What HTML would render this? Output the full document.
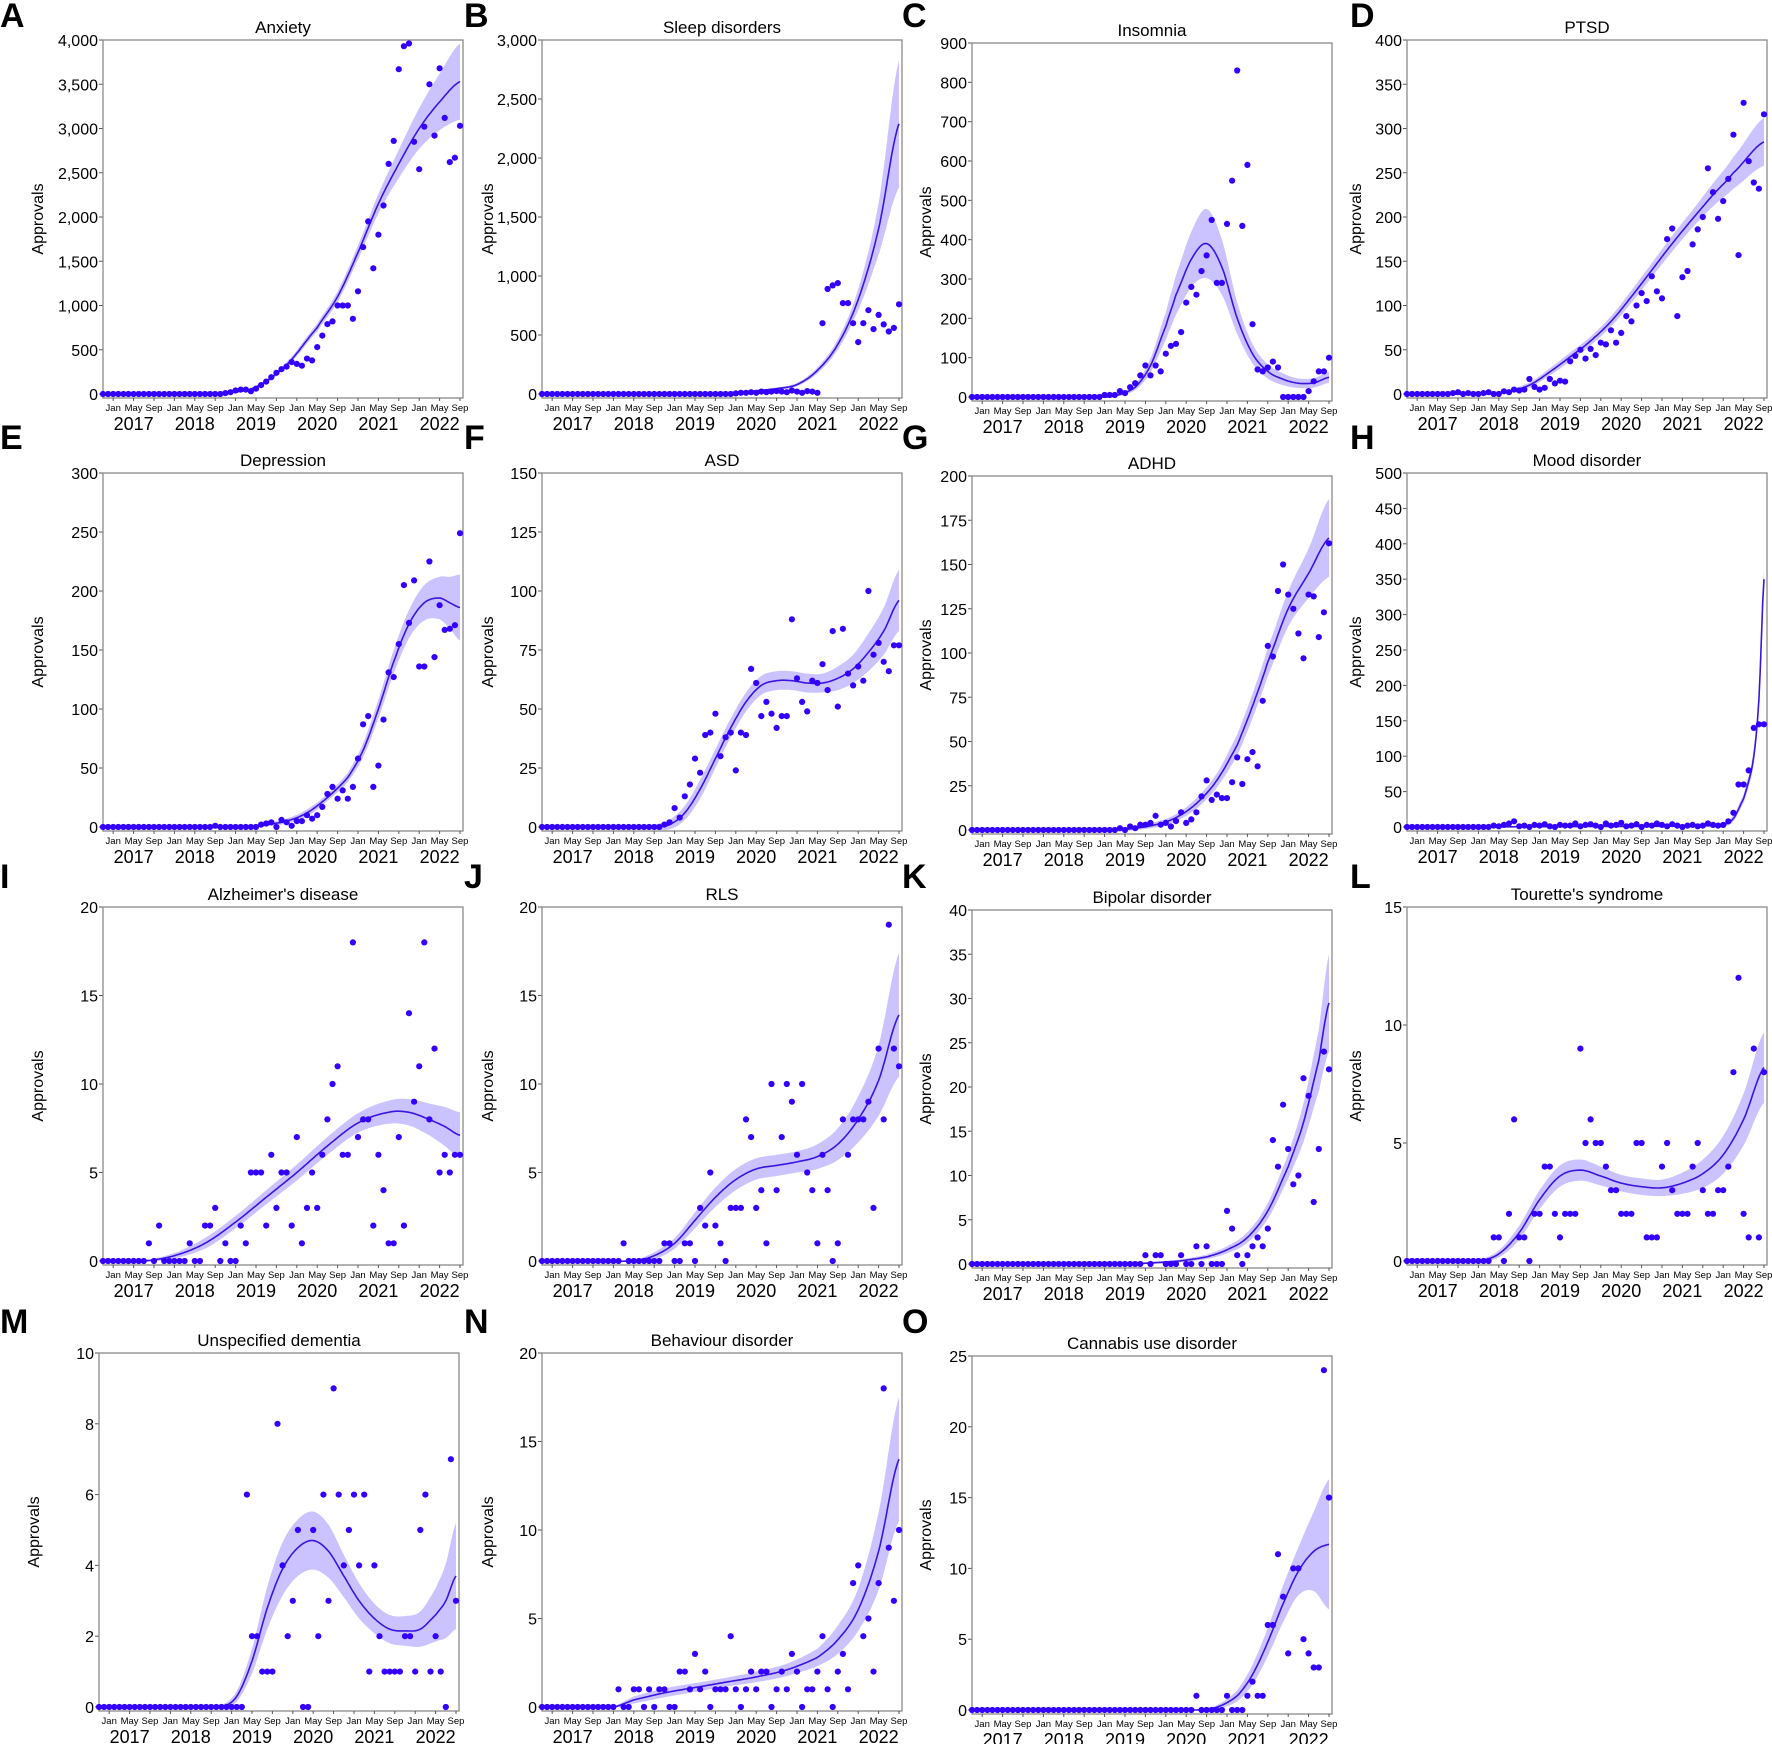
<!DOCTYPE html>
<html><head><meta charset="utf-8"><style>
html,body{margin:0;padding:0;background:#fff;}
svg{display:block;font-family:"Liberation Sans",Arial,sans-serif;}
</style></head><body>
<svg id="s" width="1772" height="1744" viewBox="0 0 1772 1744" xmlns="http://www.w3.org/2000/svg"></svg>
<script>
function P(s,arr){var o={};arr.forEach(function(v,i){o[s+i]=v;});return o;}
function R(s,e,arr){var o={};var n=arr.length;for(var m=s;m<=e;m++){o[m]=arr[Math.round((m-s)*(n-1)/(e-s))];}return o;}
var panels=[
{L:'A',t:'Anxiety',c:0,r:0,ymax:4000,st:500,cm:true,
 p:R(24,70,[10,20,40,50,50,30,60,100,140,190,240,280,310,360,340,320,400,380,530,660,790,820,1000,1000,1000,850,1160,1660,1950,1420,1800,2130,2600,2860,3670,3930,3960,2850,2540,3020,3500,2920,3680,3120,2620,2670,3030]),
 cv:[[0,0,0],[20,0,2],[24,10,5],[30,80,15],[36,330,30],[42,750,45],[46,1100,60],[50,1600,80],[54,2150,110],[58,2600,160],[62,3000,230],[66,3300,320],[70,3530,430]]},
{L:'B',t:'Sleep disorders',c:1,r:0,ymax:3000,st:500,cm:true,
 p:R(38,70,[5,10,10,15,10,20,15,20,25,20,15,30,20,10,25,20,10,600,890,920,940,770,770,600,440,600,710,550,670,590,530,560,760]),
 cv:[[0,0,0],[30,2,2],[40,20,5],[46,45,10],[50,80,15],[54,200,25],[58,420,45],[62,800,90],[66,1400,220],[70,2290,540]]},
{L:'C',t:'Insomnia',c:2,r:0,ymax:900,st:100,
 p:R(26,70,[5,5,5,15,10,25,35,55,80,55,80,65,110,130,135,165,240,280,260,320,360,450,290,440,550,830,435,590,185,70,65,75,90,75,0,0,0,0,0,15,40,65,65,100]),
 cv:[[0,0,0],[24,0,1],[28,3,3],[32,25,8],[35,80,18],[38,180,35],[40,260,50],[43,350,70],[46,390,88],[49,330,70],[52,200,40],[55,110,25],[58,65,18],[61,45,15],[64,35,12],[67,36,12],[70,50,14]]},
{L:'D',t:'PTSD',c:3,r:0,ymax:400,st:50,
 p:Object.assign(P(0,[0,0,0,0,0,0,0,0,0,1,2,0,1,0,0,1,2,0]),R(18,70,[0,3,2,5,4,5,17,8,5,7,17,12,15,14,37,43,50,40,51,44,58,56,72,58,69,88,82,100,114,105,133,116,108,175,187,88,132,139,169,186,200,255,228,198,218,243,293,157,329,263,239,232,316])),
 cv:[[0,0,0],[16,0,1],[20,3,2],[24,10,3],[28,25,4],[32,42,5],[36,60,5],[40,82,6],[44,110,7],[48,140,8],[52,170,9],[56,198,10],[60,225,13],[64,250,18],[70,285,27]]},
{L:'E',t:'Depression',c:0,r:1,ymax:300,st:50,
 p:Object.assign(P(22,[1]),R(30,70,[0,2,3,4,0,6,4,1,5,5,10,7,10,17,28,34,24,31,24,34,58,87,94,34,52,91,131,127,155,205,173,209,136,136,225,144,188,167,168,171,249])),
 cv:[[0,0,0],[28,0,1],[32,2,1.5],[36,5,2],[40,12,3],[44,25,3],[48,42,4],[51,65,6],[54,100,8],[57,140,10],[60,172,12],[63,190,15],[66,194,18],[68,190,22],[70,186,28]]},
{L:'F',t:'ASD',c:1,r:1,ymax:150,st:25,
 p:R(24,70,[1,2,8,4,13,18,29,23,39,40,48,30,38,40,24,40,39,67,61,47,53,48,42,47,88,63,53,49,62,61,69,58,83,51,84,65,60,68,62,100,73,78,70,66,77,77]),
 cv:[[0,0,0],[22,0,1],[25,1,2],[28,6,3],[31,16,4],[34,29,4],[37,42,4],[40,53,4],[43,60,4],[46,62,4],[49,62,4],[52,61,4],[55,61,4],[58,63,5],[61,67,6],[64,74,8],[67,83,10],[70,96,13]]},
{L:'G',t:'ADHD',c:2,r:1,ymax:200,st:25,
 p:R(29,70,[1,0,2,1,3,3,4,8,3,4,2,5,10,4,6,10,19,28,17,20,18,27,41,26,40,44,36,73,104,98,135,150,133,125,111,97,133,132,109,123,162]),
 cv:[[0,0,0],[28,0,1],[32,1,1],[36,3,1.5],[40,7,2],[44,15,3],[48,28,4],[52,48,6],[55,70,7],[58,95,8],[62,125,10],[66,145,14],[70,165,22]]},
{L:'H',t:'Mood disorder',c:3,r:1,ymax:500,st:50,
 p:Object.assign(P(16,[0,2,1,3,5,8,1,2,0,3,2,4,1,0,3,2,2,5,1,3,4,2,0,5,2,3,6,1,2,4,0,3,2,5,3,1,4,2,0,2,3,1,2,5,3,2]),P(62,[3,8,20,60,60,80,140,145,145])),
 cv:[[0,0,0],[50,1,1],[58,2,2],[62,3,3],[64,12,4],[66,40,6],[67,65,8],[68,100,10],[69,180,12],[70,350,14]]},
{L:'I',t:"Alzheimer's disease",c:0,r:2,ymax:20,st:5,
 p:Object.assign(P(9,[1,0,2]),R(17,70,[1,0,0,2,2,3,0,1,0,0,2,1,5,5,2,6,3,5,5,2,7,1,3,5,3,6,8,10,11,6,6,18,7,8,8,2,6,4,1,7,2,14,9,11,18,8,12,5,6,5,6,6])),
 cv:[[0,0,0],[8,0,0.05],[14,0.3,0.15],[20,1,0.3],[26,2.2,0.35],[32,3.6,0.4],[38,5,0.45],[44,6.5,0.5],[50,7.8,0.55],[56,8.4,0.65],[60,8.4,0.75],[64,8,0.9],[67,7.6,1.1],[70,7.1,1.3]]},
{L:'J',t:'RLS',c:1,r:2,ymax:20,st:5,
 p:R(16,70,[1,0,0,0,0,0,0,0,1,1,0,0,1,1,0,3,2,5,2,1,0,3,3,3,8,7,3,4,1,10,4,7,10,9,6,10,5,4,1,6,4,0,1,8,6,8,8,8,9,3,12,8,19,12,11]),
 cv:[[0,0,0],[18,0,0.05],[22,0.3,0.2],[26,1,0.3],[30,2.3,0.45],[34,3.6,0.55],[38,4.6,0.6],[42,5.2,0.6],[46,5.4,0.6],[50,5.6,0.6],[54,5.9,0.7],[58,6.6,0.9],[62,8.0,1.3],[66,10.2,2.0],[70,13.9,3.5]]},
{L:'K',t:'Bipolar disorder',c:2,r:2,ymax:40,st:5,
 p:R(34,70,[1,0,1,1,0,0,0,1,0,0,2,0,2,0,0,0,6,4,1,0,1,2,3,2,4,14,11,18,13,9,10,21,19,7,13,24,22]),
 cv:[[0,0,0],[30,0,0.1],[40,0.3,0.15],[46,0.8,0.25],[50,1.6,0.4],[54,3,0.6],[58,6,0.9],[62,11,1.4],[65,16,2.2],[68,23,3.5],[70,29.5,5.5]]},
{L:'L',t:"Tourette's syndrome",c:3,r:2,ymax:15,st:5,
 p:R(17,70,[1,1,0,2,6,1,1,0,2,4,4,2,1,2,2,2,9,5,6,5,5,4,3,3,2,2,5,5,1,1,1,4,5,3,2,2,2,4,5,3,2,2,3,4,8,12,2,1,9,1,8]),
 cv:[[0,0,0],[14,0,0.05],[18,0.3,0.15],[22,1.2,0.3],[26,2.6,0.4],[30,3.6,0.45],[34,3.85,0.45],[38,3.6,0.4],[42,3.3,0.35],[46,3.15,0.35],[50,3.1,0.35],[54,3.3,0.45],[58,3.7,0.6],[62,4.5,0.8],[66,6,1.1],[70,8.2,1.5]]},
{L:'M',t:'Unspecified dementia',c:0,r:3,ymax:10,st:2,
 p:P(29,[6,2,2,1,1,1,8,4,2,3,5,0,0,5,2,6,3,9,6,4,5,6,4,6,1,4,2,1,1,1,1,2,2,1,5,6,1,2,1,0,7,3]),
 cv:[[0,0,0],[24,0,0.05],[27,0.3,0.15],[30,1.3,0.35],[33,2.8,0.6],[36,3.9,0.75],[39,4.5,0.8],[42,4.7,0.82],[45,4.4,0.75],[48,3.7,0.6],[51,3.0,0.5],[54,2.5,0.42],[57,2.2,0.4],[60,2.15,0.42],[63,2.2,0.5],[66,2.6,0.75],[68,3.0,1.05],[70,3.7,1.5]]},
{L:'N',t:'Behaviour disorder',c:1,r:3,ymax:20,st:5,
 p:R(15,70,[1,0,0,1,1,0,1,0,1,1,0,0,2,2,1,3,1,2,0,1,1,1,4,1,0,1,2,1,2,2,0,1,2,1,3,2,0,1,1,2,4,1,0,2,3,1,7,8,4,5,2,7,18,9,6,10]),
 cv:[[0,0,0],[14,0,0.05],[18,0.4,0.2],[24,0.8,0.25],[30,1.1,0.25],[36,1.4,0.25],[42,1.7,0.3],[48,2.1,0.35],[54,2.8,0.5],[58,3.8,0.8],[62,5.5,1.2],[66,8.8,2.2],[70,14,3.5]]},
{L:'O',t:'Cannabis use disorder',c:2,r:3,ymax:25,st:5,
 p:Object.assign(P(44,[1]),P(50,[1,0,0,0,1,2,1,1,6,6,11,8,4,10,10,5,4,3,3,24,15])),
 cv:[[0,0,0],[44,0,0.05],[48,0.2,0.15],[52,1,0.4],[55,2.5,0.7],[58,4.8,1.0],[61,7.5,1.3],[64,9.8,1.7],[67,11.2,2.8],[70,11.7,4.6]]}
];
var colX=[103,542,972,1407],rowY=[40,473,907,1353];
var lx=[0,464,902,1350],lb=[27,449,888,1333];
var W=360,H=358,yrs=['2017','2018','2019','2020','2021','2022'];
function interp(cv,m){
 if(m<=cv[0][0])return [cv[0][1],cv[0][2]];
 for(var i=0;i<cv.length-1;i++){
  if(m<=cv[i+1][0]){
   var p0=cv[Math.max(i-1,0)],p1=cv[i],p2=cv[i+1],p3=cv[Math.min(i+2,cv.length-1)];
   var t=(m-p1[0])/(p2[0]-p1[0]);
   function cr(k){var a=p0[k],b=p1[k],c=p2[k],d=p3[k];
     var m1=(c-a)/2,m2=(d-b)/2;var t2=t*t,t3=t2*t;
     return (2*t3-3*t2+1)*b+(t3-2*t2+t)*m1+(-2*t3+3*t2)*c+(t3-t2)*m2;}
   return [cr(1),cr(2)];
  }
 }
 var l=cv[cv.length-1];return [l[1],l[2]];
}
function fmt(v,cm){if(cm&&v>=1000){var s=String(v);return s.slice(0,s.length-3)+','+s.slice(-3);}return String(v);}
var out='';
panels.forEach(function(p){
 var left=colX[p.c];if(p.L==='M')left=99;
 var top=rowY[p.r]+(p.c===2?3:0);
 var y0=top+H-4,dx=357/70;
 function X(m){return left+m*dx;}
 function Y(v){return y0-(v/p.ymax)*(y0-top);}
 out+='<text x="'+lx[p.c]+'" y="'+lb[p.r]+'" font-size="34" font-weight="bold">'+p.L+'</text>';
 out+='<text x="'+(left+W/2)+'" y="'+(top-7)+'" font-size="17" text-anchor="middle">'+p.t.replace("'","&#39;")+'</text>';
 var axc=left-(p.c===0?66:p.c===1?55:p.c===2?47:52);
 out+='<text transform="translate('+axc+','+(top+H/2)+') rotate(-90)" font-size="16" text-anchor="middle" dy="6">Approvals</text>';
 for(var v=0;v<=p.ymax+1e-9;v+=p.st){var y=Y(v);
  out+='<line x1="'+(left-4)+'" y1="'+y+'" x2="'+left+'" y2="'+y+'" stroke="#555" stroke-width="1"/>';
  out+='<text x="'+(left-5)+'" y="'+(y+6)+'" font-size="16" text-anchor="end">'+fmt(v,p.cm)+'</text>';}
 var up=[],lo=[],ln=[];
 for(var m=0;m<=70.001;m+=0.25){var r=interp(p.cv,m);var v=r[0],h=Math.max(r[1],0);
  up.push(X(m).toFixed(1)+','+Y(v+h).toFixed(1));lo.unshift(X(m).toFixed(1)+','+Y(Math.max(v-h,-p.ymax*0.01)).toFixed(1));ln.push(X(m).toFixed(1)+','+Y(v).toFixed(1));}
 out+='<polygon points="'+up.join(' ')+' '+lo.join(' ')+'" fill="#cbc3ff" stroke="none"/>';
 out+='<polyline points="'+ln.join(' ')+'" fill="none" stroke="#3a14e0" stroke-width="1.6"/>';
 out+='<rect x="'+left+'" y="'+top+'" width="'+W+'" height="'+H+'" fill="none" stroke="#8a8a8a" stroke-width="1.3"/>';
 for(var m=0;m<=70;m++){var v=p.p[m]!==undefined?p.p[m]:0;
  out+='<circle cx="'+X(m).toFixed(1)+'" cy="'+Y(v).toFixed(1)+'" r="3.1" fill="#3300ff"/>';}
 var mn=['Jan','May','Sep'];
 for(var y=0;y<6;y++)for(var k=0;k<3;k++){var m=2+12*y+4*k;var x=X(m);
  out+='<line x1="'+x+'" y1="'+(top+H)+'" x2="'+x+'" y2="'+(top+H+3)+'" stroke="#555"/>';
  out+='<text x="'+x+'" y="'+(top+H+13)+'" font-size="9.5" text-anchor="middle">'+mn[k]+'</text>';}
 for(var y=0;y<6;y++){out+='<text x="'+X(2+12*y+4)+'" y="'+(top+H+32)+'" font-size="18" text-anchor="middle">'+yrs[y]+'</text>';}
});
document.getElementById('s').innerHTML=out;
</script>
</body></html>
